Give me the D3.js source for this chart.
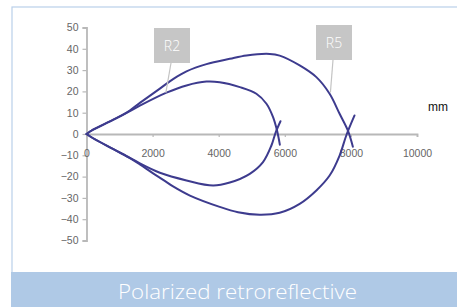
<!DOCTYPE html>
<html><head><meta charset="utf-8">
<script src="https://cdn.jsdelivr.net/npm/d3@7"></script>
<style>
html,body{margin:0;padding:0;background:#fff;}
svg{display:block;}
</style></head>
<body>
<svg id="chart" width="457" height="307"></svg>
<script>
// ---- data ----
const xTicks = [0, 2000, 4000, 6000, 8000, 10000];
const yTicks = [50, 40, 30, 20, 10, 0, -10, -20, -30, -40, -50];

const r2UpperX = [0, 200, 800, 1200, 1615, 2420, 3025, 3630, 4030, 4640, 5140, 5445, 5645, 5765, 5850];
const r2UpperY = [0, 2.0, 6.6, 9.8, 13.3, 19.4, 22.8, 24.6, 24.3, 22, 18.9, 14.2, 7.9, 1.6, -5];
const r2LowerX = [0, 200, 800, 1315, 1615, 2220, 3025, 3830, 4335, 4940, 5340, 5595, 5725, 5870];
const r2LowerY = [0, -2.0, -7, -11.2, -13.8, -18.2, -21.8, -24.2, -22.8, -18.7, -13.2, -5.4, 0.8, 6];
const r5UpperX = [0, 200, 800, 1200, 1615, 2220, 2620, 3025, 3630, 4335, 4840, 5545, 5845, 6450, 6955, 7356, 7658, 7910, 8060];
const r5UpperY = [0, 2.0, 6.6, 9.9, 14.6, 21.3, 25.8, 29.4, 32.8, 35.3, 36.9, 37.6, 36.8, 32.2, 26.7, 18.9, 9.5, 1.6, -6];
const r5LowerX = [0, 200, 800, 1300, 1615, 2015, 2320, 2620, 3130, 4030, 4585, 5240, 5845, 6450, 6955, 7356, 7658, 7860, 8110];
const r5LowerY = [0, -2.0, -7, -11.2, -14.3, -18.5, -21.5, -24.6, -28.9, -34.2, -36.7, -37.9, -37, -32.8, -26.5, -19.5, -10.1, -0.7, 8.7];

const labels = ["R2", "R5"];
const unitLabel = "mm";
const caption = "Polarized retroreflective";

// ---- drawing ----
const svg = d3.select("#chart");
const W = 457, H = 307;

// frame
svg.append("rect").attr("x", 12).attr("y", 7).attr("width", 460).attr("height", 300)
  .attr("fill", "#fff").attr("stroke", "#b9d0ea").attr("stroke-width", 1.2);

// caption band
svg.append("rect").attr("x", 11).attr("y", 272).attr("width", W - 11).attr("height", H - 272)
  .attr("fill", "#afc9e6");
svg.append("text").attr("x", 237.5).attr("y", 299).attr("text-anchor", "middle")
  .attr("font-family", "'Open Sans', sans-serif").attr("font-weight", 300)
  .attr("font-size", 19.5).attr("fill", "#fff").attr("textLength", 239)
  .attr("lengthAdjust", "spacingAndGlyphs").text(caption);

const x = d3.scaleLinear().domain([0, 10000]).range([86.5, 417]);
const y = d3.scaleLinear().domain([-50, 50]).range([240.5, 27.5]);

const axisColor = "#b8b8b8";
const tickText = "#666";
const font = "'Liberation Sans', Arial, sans-serif";

// y axis
const gy = svg.append("g").attr("transform", `translate(${x(0)},0)`)
  .call(d3.axisLeft(y).tickValues(yTicks).tickSize(4).tickPadding(4).tickFormat(d3.format("d")));
gy.select(".domain").attr("stroke", axisColor).attr("stroke-width", 1.8);
gy.selectAll(".tick line").attr("stroke", axisColor).attr("stroke-width", 1.2);
gy.selectAll(".tick text").attr("fill", tickText).attr("font-family", font).attr("font-size", 10.5);

// x axis
const gx = svg.append("g").attr("transform", `translate(0,${y(0)})`)
  .call(d3.axisBottom(x).tickValues(xTicks).tickSize(3).tickPadding(13).tickFormat(d3.format("d")));
gx.select(".domain").attr("stroke", axisColor).attr("stroke-width", 1.8);
gx.selectAll(".tick line").attr("stroke", axisColor).attr("stroke-width", 1.2);
gx.selectAll(".tick text").attr("fill", tickText).attr("font-family", font).attr("font-size", 10.5);

// curves
const line = d3.line().x(d => x(d[0])).y(d => y(d[1])).curve(d3.curveCatmullRom.alpha(0.5));
const series = [
  [r2UpperX, r2UpperY], [r2LowerX, r2LowerY],
  [r5UpperX, r5UpperY], [r5LowerX, r5LowerY]
];
series.forEach(([xs, ys]) => {
  svg.append("path").datum(d3.zip(xs, ys)).attr("d", line)
    .attr("fill", "none").attr("stroke", "#3d3b8e").attr("stroke-width", 2)
    .attr("stroke-linejoin", "round").attr("stroke-linecap", "round");
});

// callout labels
const callouts = [
  {text: labels[0], bx: 154, by: 28, px: 2400, py: 19.3},
  {text: labels[1], bx: 316, by: 25, px: 7380, py: 19.5}
];
callouts.forEach(c => {
  const cx = c.bx + 18;
  svg.append("line").attr("x1", cx - 1).attr("y1", c.by + 35).attr("x2", x(c.px)).attr("y2", y(c.py))
    .attr("stroke", "#c4c4c4").attr("stroke-width", 1.2);
  svg.append("rect").attr("x", c.bx).attr("y", c.by).attr("width", 36).attr("height", 35)
    .attr("fill", "#c6c6c6");
  svg.append("text").attr("x", cx).attr("y", c.by + 22.5).attr("text-anchor", "middle")
    .attr("font-family", "'Open Sans', sans-serif").attr("font-weight", 300)
    .attr("font-size", 14).attr("fill", "#fff").text(c.text);
});

// unit label
svg.append("text").attr("x", 428).attr("y", 111).attr("font-family", font)
  .attr("font-size", 12).attr("fill", "#111").text(unitLabel);
</script>
</body></html>
